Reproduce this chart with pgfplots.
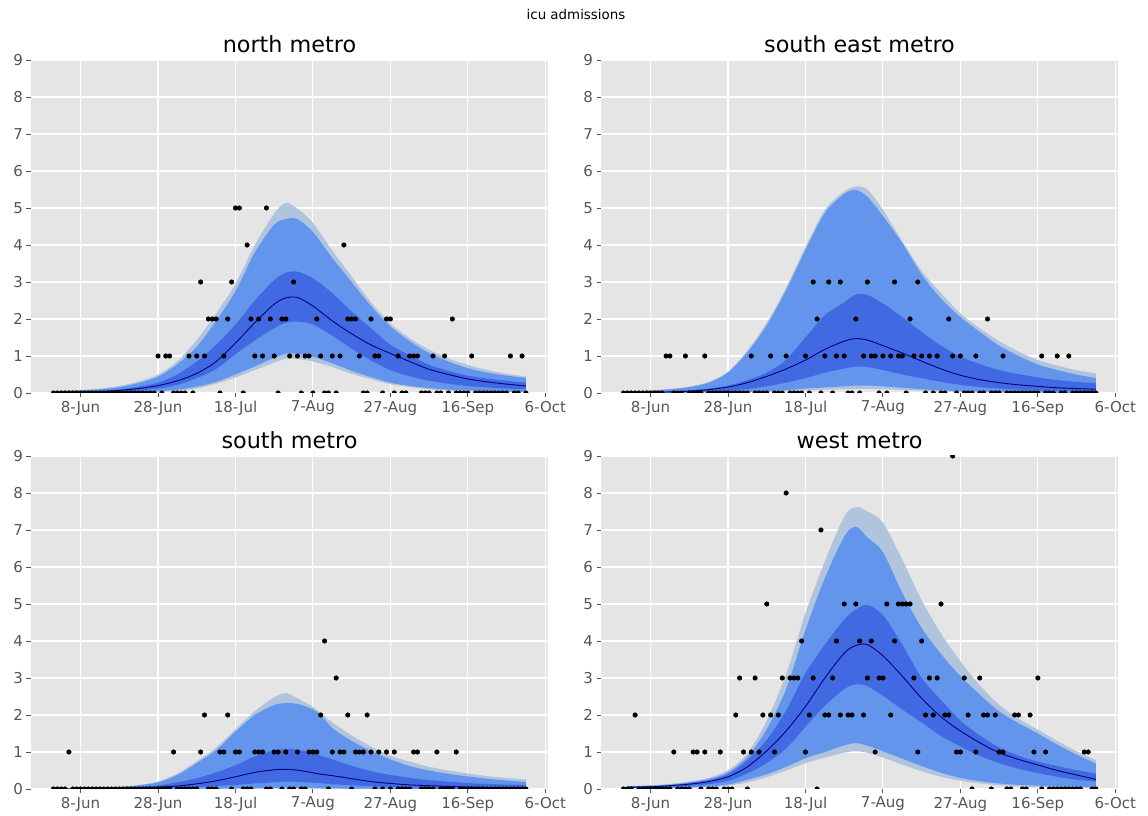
\documentclass[border=0pt]{standalone}
\usepackage{fontspec}
\setmainfont{DejaVu Sans}
\usepackage{pgfplots}
\pgfplotsset{compat=1.18}
\usepackage{pgfplotstable}
\usepgfplotslibrary{fillbetween}
\definecolor{bgray}{HTML}{E5E5E5}
\definecolor{tickgray}{HTML}{555555}
\definecolor{lsb}{HTML}{B0C4DE}
\definecolor{cfb}{HTML}{6495ED}
\definecolor{rb}{HTML}{4169E1}
\definecolor{nv}{HTML}{000080}

% columns: day, a=lower outer, b=lower mid, c=lower inner, m=median, e=upper inner, f=upper mid, g=upper outer
\pgfplotstableread{
d a b c m e f g
-6 0.00 0.01 0.02 0.02 0.03 0.05 0.06
0 0.00 0.01 0.02 0.03 0.04 0.07 0.08
5 0.01 0.01 0.03 0.04 0.06 0.10 0.12
10 0.01 0.02 0.04 0.07 0.10 0.16 0.19
15 0.02 0.03 0.07 0.12 0.17 0.27 0.31
20 0.03 0.05 0.12 0.20 0.28 0.44 0.50
25 0.06 0.09 0.22 0.33 0.50 0.78 0.86
30 0.12 0.17 0.40 0.53 0.85 1.25 1.43
35 0.25 0.30 0.65 0.85 1.30 1.95 2.15
40 0.42 0.50 1.05 1.35 1.85 2.75 2.95
45 0.62 0.72 1.42 1.90 2.50 3.80 4.00
50 0.82 0.95 1.75 2.40 3.05 4.55 4.85
53 0.92 1.06 1.90 2.57 3.25 4.70 5.14
56 0.92 1.06 1.93 2.58 3.28 4.70 4.98
60 0.85 0.98 1.85 2.35 3.10 4.35 4.60
65 0.70 0.80 1.55 1.95 2.70 3.65 3.85
70 0.52 0.60 1.20 1.60 2.20 3.00 3.15
75 0.37 0.43 0.88 1.30 1.75 2.35 2.45
80 0.24 0.28 0.62 1.07 1.30 1.80 1.88
85 0.16 0.19 0.45 0.85 1.02 1.40 1.48
90 0.10 0.13 0.33 0.64 0.76 1.08 1.17
95 0.07 0.09 0.25 0.50 0.60 0.85 0.93
100 0.05 0.07 0.19 0.38 0.47 0.67 0.76
105 0.04 0.05 0.15 0.30 0.39 0.55 0.62
110 0.03 0.04 0.12 0.24 0.33 0.47 0.52
115 0.02 0.03 0.10 0.19 0.28 0.41 0.45
}\tnorth

\pgfplotstableread{
d a b c m e f g
-6 0.00 0.00 0.01 0.01 0.02 0.04 0.05
0 0.00 0.00 0.01 0.02 0.03 0.06 0.07
5 0.00 0.01 0.01 0.03 0.04 0.10 0.11
10 0.01 0.01 0.02 0.05 0.07 0.16 0.17
15 0.01 0.02 0.04 0.09 0.12 0.28 0.30
20 0.01 0.02 0.06 0.16 0.20 0.55 0.58
25 0.02 0.03 0.11 0.28 0.35 1.10 1.15
30 0.03 0.05 0.18 0.45 0.55 1.83 1.90
35 0.05 0.08 0.28 0.65 0.90 2.78 2.85
40 0.07 0.12 0.40 0.89 1.50 3.87 3.95
45 0.09 0.15 0.55 1.18 2.10 4.87 4.95
50 0.10 0.18 0.66 1.40 2.45 5.38 5.45
53 0.11 0.20 0.71 1.47 2.66 5.49 5.58
56 0.11 0.20 0.70 1.43 2.65 5.30 5.50
60 0.10 0.18 0.62 1.28 2.42 4.78 4.95
65 0.08 0.14 0.50 1.08 2.05 4.05 4.10
70 0.06 0.10 0.40 0.86 1.65 3.20 3.30
75 0.04 0.07 0.30 0.65 1.28 2.55 2.70
80 0.03 0.05 0.22 0.48 0.98 2.05 2.15
85 0.02 0.04 0.16 0.36 0.78 1.65 1.75
90 0.01 0.03 0.12 0.28 0.62 1.28 1.40
95 0.01 0.02 0.09 0.22 0.51 1.00 1.12
100 0.01 0.02 0.07 0.18 0.42 0.77 0.89
105 0.00 0.01 0.06 0.14 0.35 0.62 0.74
110 0.00 0.01 0.05 0.12 0.30 0.50 0.62
115 0.00 0.01 0.04 0.10 0.26 0.40 0.53
}\tse

\pgfplotstableread{
d a b c m e f g
-6 0.00 0.00 0.00 0.00 0.01 0.01 0.01
0 0.00 0.00 0.00 0.00 0.01 0.02 0.02
5 0.00 0.00 0.00 0.01 0.02 0.03 0.03
10 0.00 0.00 0.00 0.01 0.03 0.05 0.06
15 0.00 0.00 0.01 0.02 0.06 0.10 0.11
20 0.00 0.00 0.02 0.05 0.10 0.18 0.20
25 0.00 0.00 0.03 0.08 0.18 0.38 0.42
30 0.00 0.01 0.05 0.14 0.29 0.70 0.75
35 0.00 0.01 0.08 0.22 0.45 1.05 1.12
40 0.01 0.02 0.11 0.33 0.64 1.55 1.62
45 0.01 0.02 0.15 0.45 0.88 2.00 2.10
50 0.01 0.03 0.18 0.52 1.04 2.27 2.48
53 0.01 0.03 0.20 0.53 1.08 2.32 2.59
56 0.01 0.03 0.19 0.51 1.06 2.30 2.45
60 0.01 0.03 0.17 0.44 0.97 2.15 2.22
62 0.01 0.02 0.16 0.40 0.90 2.00 2.05
65 0.01 0.02 0.13 0.36 0.80 1.65 1.80
70 0.00 0.01 0.10 0.28 0.63 1.30 1.45
75 0.00 0.01 0.07 0.20 0.48 1.03 1.15
80 0.00 0.01 0.05 0.15 0.38 0.80 0.90
85 0.00 0.00 0.04 0.11 0.30 0.62 0.74
90 0.00 0.00 0.03 0.09 0.24 0.50 0.60
95 0.00 0.00 0.02 0.07 0.20 0.41 0.50
100 0.00 0.00 0.02 0.05 0.16 0.34 0.42
105 0.00 0.00 0.01 0.04 0.14 0.28 0.35
110 0.00 0.00 0.01 0.035 0.12 0.23 0.30
115 0.00 0.00 0.01 0.03 0.11 0.19 0.26
}\tsouth

\pgfplotstableread{
d a b c m e f g
-6 0.02 0.03 0.04 0.05 0.06 0.07 0.08
0 0.02 0.03 0.05 0.06 0.07 0.09 0.10
5 0.03 0.03 0.06 0.09 0.10 0.12 0.14
10 0.03 0.04 0.08 0.13 0.16 0.18 0.20
15 0.05 0.07 0.13 0.20 0.24 0.27 0.30
20 0.09 0.12 0.22 0.33 0.40 0.45 0.51
25 0.18 0.25 0.42 0.60 0.78 0.87 0.96
30 0.32 0.40 0.70 1.03 1.33 1.62 1.85
35 0.50 0.60 1.10 1.57 2.12 2.70 3.10
40 0.70 0.83 1.68 2.23 3.13 4.30 4.75
45 0.85 1.00 2.25 3.00 3.90 5.70 6.15
50 0.98 1.18 2.70 3.67 4.58 6.82 7.36
53 1.02 1.24 2.83 3.88 4.85 7.09 7.62
56 0.98 1.17 2.78 3.90 4.97 6.80 7.50
60 0.85 1.02 2.52 3.60 4.70 6.40 7.20
65 0.66 0.82 2.15 3.05 3.90 5.30 6.20
70 0.48 0.62 1.80 2.45 3.00 4.35 5.10
75 0.33 0.44 1.43 1.95 2.40 3.65 4.20
80 0.22 0.30 1.15 1.57 1.85 3.05 3.45
85 0.15 0.21 0.90 1.25 1.45 2.55 2.80
90 0.10 0.15 0.70 0.98 1.12 2.10 2.28
95 0.07 0.11 0.55 0.80 0.90 1.78 1.90
100 0.05 0.09 0.43 0.65 0.74 1.50 1.60
105 0.04 0.07 0.33 0.50 0.62 1.20 1.30
110 0.03 0.06 0.25 0.38 0.51 0.93 1.02
115 0.02 0.05 0.20 0.26 0.42 0.69 0.78
}\twest

\pgfplotsset{panel/.style={
  scale only axis, width=517pt, height=333pt, anchor=south west,
  xmin=-12.8, xmax=120.7, ymin=0, ymax=9,
  xtick={0,20,...,120},
  xticklabels={8-Jun,28-Jun,18-Jul,7-Aug,27-Aug,16-Sep,6-Oct},
  ytick={0,1,...,9},
  grid=major, major grid style={white, line width=1.1pt},
  axis background/.style={fill=bgray},
  axis line style={draw=none},
  tick pos=left, tick align=outside, major tick length=4.5pt,
  tick style={tickgray, line width=0.9pt},
  tick label style={font=\fontsize{15}{18}\selectfont, text=tickgray},
  /pgf/number format/assume math mode=true,
  title style={font=\fontsize{22.3}{26}\selectfont, at={(0.5,1)}, anchor=base, yshift=1.8pt},
  clip marker paths=true,
}}

\newcommand{\bands}[1]{%
  \addplot[name path=pg, draw=none, smooth] table[x=d,y=g]{#1};
  \addplot[name path=pa, draw=none, smooth] table[x=d,y=a]{#1};
  \addplot[lsb, draw=none] fill between[of=pg and pa];
  \addplot[name path=pf, draw=none, smooth] table[x=d,y=f]{#1};
  \addplot[name path=pb, draw=none, smooth] table[x=d,y=b]{#1};
  \addplot[cfb, draw=none] fill between[of=pf and pb];
  \addplot[name path=pe, draw=none, smooth] table[x=d,y=e]{#1};
  \addplot[name path=pc, draw=none, smooth] table[x=d,y=c]{#1};
  \addplot[rb, draw=none] fill between[of=pe and pc];
  \addplot[nv, line width=0.9pt, smooth] table[x=d,y=m]{#1};
}
\pgfplotsset{dots/.style={only marks, mark=*, mark size=2.3pt, black}}

\begin{document}
\begin{tikzpicture}
\node[font=\fontsize{13.4}{16}\selectfont] at (576pt,801pt) {icu admissions};

\begin{axis}[panel, at={(31pt,423pt)}, title={north metro}]
\bands{\tnorth}
\addplot[dots] coordinates {
(-7,0)(-6,0)(-5,0)(-4,0)(-3,0)(-2,0)(-1,0)(0,0)(1,0)(2,0)
(3,0)(4,0)(5,0)(6,0)(7,0)(8,0)(9,0)(10,0)(11,0)(12,0)
(13,0)(14,0)(15,0)(16,0)(17,0)(18,0)(19,0)(20,1)(21,0)(22,1)
(23,1)(24,0)(25,0)(26,0)(27,0)(28,1)(29,0)(30,1)(31,3)(32,1)
(33,2)(34,2)(35,2)(36,0)(37,1)(38,2)(39,3)(40,5)(41,5)(42,0)
(43,4)(44,2)(45,1)(46,2)(47,1)(48,5)(49,2)(50,1)(51,0)(52,2)
(53,2)(54,1)(55,3)(56,1)(57,0)(58,1)(59,1)(60,0)(61,2)(62,1)
(63,0)(64,0)(65,1)(66,0)(67,1)(68,4)(69,2)(70,2)(71,2)(72,1)
(73,0)(74,0)(75,2)(76,1)(77,1)(78,0)(79,2)(80,2)(81,0)(82,1)
(83,0)(84,0)(85,1)(86,1)(87,1)(88,0)(89,0)(90,0)(91,1)(92,0)
(93,0)(94,1)(95,0)(96,2)(97,0)(98,0)(99,0)(100,0)(101,1)(102,0)
(103,0)(104,0)(105,0)(106,0)(107,0)(108,0)(109,0)(110,0)(111,1)(112,0)
(113,0)(114,1)(115,0)};
\end{axis}

\begin{axis}[panel, at={(601pt,423pt)}, title={south east metro}]
\bands{\tse}
\addplot[dots] coordinates {
(-7,0)(-6,0)(-5,0)(-4,0)(-3,0)(-2,0)(-1,0)(0,0)(1,0)(2,0)
(3,0)(4,1)(5,1)(6,0)(7,0)(8,0)(9,1)(10,0)(11,0)(12,0)
(13,0)(14,1)(15,0)(16,0)(17,0)(18,0)(19,0)(20,0)(21,0)(22,0)
(23,0)(24,0)(25,0)(26,1)(27,0)(28,0)(29,0)(30,0)(31,1)(32,0)
(33,0)(34,0)(35,1)(36,0)(37,0)(38,0)(39,0)(40,1)(41,0)(42,3)
(43,2)(44,0)(45,1)(46,3)(47,0)(48,1)(49,3)(50,1)(51,0)(52,0)
(53,2)(54,0)(55,1)(56,3)(57,1)(58,1)(59,0)(60,1)(61,0)(62,1)
(63,3)(64,1)(65,1)(66,0)(67,2)(68,1)(69,3)(70,1)(71,0)(72,1)
(73,0)(74,1)(75,0)(76,0)(77,2)(78,1)(79,0)(80,1)(81,0)(82,0)
(83,0)(84,1)(85,0)(86,0)(87,2)(88,0)(89,0)(90,0)(91,1)(92,0)
(93,0)(94,0)(95,0)(96,0)(97,0)(98,0)(99,0)(100,0)(101,1)(102,0)
(103,0)(104,0)(105,1)(106,0)(107,0)(108,1)(109,0)(110,0)(111,0)(112,0)
(113,0)(114,0)(115,0)};
\end{axis}

\begin{axis}[panel, at={(31pt,27pt)}, title={south metro}]
\bands{\tsouth}
\addplot[dots] coordinates {
(-7,0)(-6,0)(-5,0)(-4,0)(-3,1)(-2,0)(-1,0)(0,0)(1,0)(2,0)
(3,0)(4,0)(5,0)(6,0)(7,0)(8,0)(9,0)(10,0)(11,0)(12,0)
(13,0)(14,0)(15,0)(16,0)(17,0)(18,0)(19,0)(20,0)(21,0)(22,0)
(23,0)(24,1)(25,0)(26,0)(27,0)(28,0)(29,0)(30,0)(31,1)(32,2)
(33,0)(34,0)(35,0)(36,1)(37,1)(38,2)(39,0)(40,1)(41,1)(42,0)
(43,0)(44,0)(45,1)(46,1)(47,1)(48,0)(49,0)(50,1)(51,1)(52,0)
(53,1)(54,0)(55,0)(56,1)(57,0)(58,0)(59,1)(60,1)(61,1)(62,2)
(63,4)(64,0)(65,1)(66,3)(67,1)(68,1)(69,2)(70,0)(71,1)(72,1)
(73,1)(74,2)(75,1)(76,0)(77,1)(78,0)(79,1)(80,0)(81,1)(82,0)
(83,0)(84,0)(85,0)(86,1)(87,1)(88,0)(89,0)(90,0)(91,0)(92,1)
(93,0)(94,0)(95,0)(96,0)(97,1)(98,0)(99,0)(100,0)(101,0)(102,0)
(103,0)(104,0)(105,0)(106,0)(107,0)(108,0)(109,0)(110,0)(111,0)(112,0)
(113,0)(114,0)(115,0)};
\end{axis}

\begin{axis}[panel, at={(601pt,27pt)}, title={west metro}]
\bands{\twest}
\addplot[dots] coordinates {
(-7,0)(-6,0)(-5,0)(-4,2)(-3,0)(-2,0)(-1,0)(0,0)(1,0)(2,0)
(3,0)(4,0)(5,0)(6,1)(7,0)(8,0)(9,0)(10,0)(11,1)(12,1)
(13,0)(14,1)(15,0)(16,0)(17,0)(18,1)(19,0)(20,0)(21,0)(22,2)
(23,3)(24,1)(25,0)(26,1)(27,3)(28,1)(29,2)(30,5)(31,2)(32,1)
(33,2)(34,3)(35,8)(36,3)(37,3)(38,3)(39,4)(40,1)(41,2)(42,3)
(43,0)(44,7)(45,2)(46,2)(47,3)(48,4)(49,2)(50,5)(51,2)(52,2)
(53,5)(54,4)(55,2)(56,3)(57,4)(58,1)(59,3)(60,3)(61,5)(62,2)
(63,4)(64,5)(65,5)(66,5)(67,5)(68,3)(69,1)(70,4)(71,2)(72,3)
(73,2)(74,3)(75,5)(76,2)(77,2)(78,9)(79,1)(80,1)(81,3)(82,2)
(83,0)(84,1)(85,3)(86,2)(87,2)(88,0)(89,2)(90,1)(91,1)(92,0)
(93,0)(94,2)(95,2)(96,0)(97,0)(98,2)(99,1)(100,3)(101,0)(102,1)
(103,0)(104,0)(105,0)(106,0)(107,0)(108,0)(109,0)(110,0)(111,0)(112,1)
(113,1)(114,0)(115,0)};
\end{axis}
\pgfresetboundingbox
\path[use as bounding box] (0,0) rectangle (1148pt,816pt);
\end{tikzpicture}
\end{document}
